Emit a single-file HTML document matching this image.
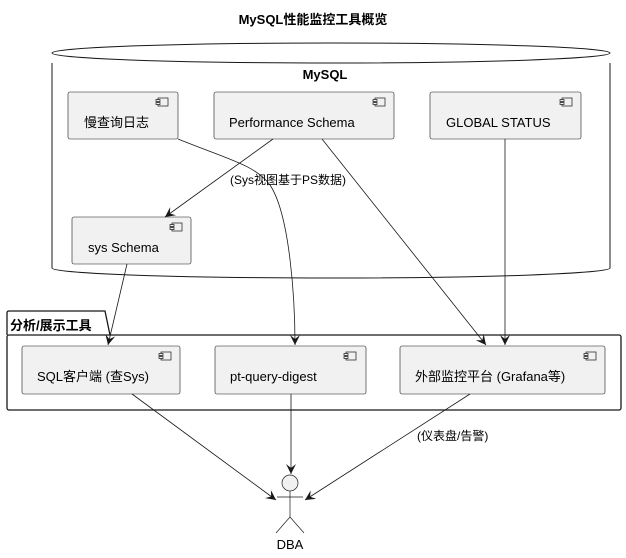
<!DOCTYPE html>
<html><head><meta charset="utf-8"><style>
body{margin:0;background:#fff}
svg text{font-family:"Liberation Sans","Noto Sans CJK SC",sans-serif;fill:#000}
</style></head><body>
<svg width="626" height="553" viewBox="0 0 626 553" xmlns="http://www.w3.org/2000/svg">
<defs>
<marker id="a" markerWidth="12" markerHeight="10" refX="10" refY="5" orient="auto" markerUnits="userSpaceOnUse">
<path d="M0,0 L10,5 L0,10 L4,5 Z" fill="#181818"/></marker>
<g id="ic"><rect x="0" y="0" width="10" height="8" fill="#f1f1f1" stroke="#181818" stroke-width="0.7"/><rect x="-2" y="1.5" width="4" height="2" fill="#f1f1f1" stroke="#181818" stroke-width="0.7"/><rect x="-2" y="4.5" width="4" height="2" fill="#f1f1f1" stroke="#181818" stroke-width="0.7"/></g>
</defs>
<text x="313" y="24" font-size="13" font-weight="bold" text-anchor="middle">MySQL性能监控工具概览</text>
<!-- cylinder -->
<path d="M52,63 L52,268 A279,10 0 0 0 610,268 L610,63" fill="#fff" stroke="#181818" stroke-width="1"/>
<ellipse cx="331" cy="53" rx="279" ry="10" fill="#fff" stroke="#181818" stroke-width="1"/>
<text x="325" y="79" font-size="13" font-weight="bold" text-anchor="middle">MySQL</text>
<g fill="#f1f1f1" stroke="#181818" stroke-width="0.6">
<rect x="68" y="92" width="110" height="47" rx="2"/>
<rect x="214" y="92" width="180" height="47" rx="2"/>
<rect x="430" y="92" width="151" height="47" rx="2"/>
<rect x="72" y="217" width="119" height="47" rx="2"/>
</g>
<use href="#ic" x="158" y="98"/><use href="#ic" x="375" y="98"/><use href="#ic" x="562" y="98"/><use href="#ic" x="172" y="223"/>
<g font-size="13">
<text x="84" y="127">慢查询日志</text>
<text x="229" y="127">Performance Schema</text>
<text x="446" y="127">GLOBAL STATUS</text>
<text x="88" y="252">sys Schema</text>
</g>
<!-- package -->
<path d="M7,335 L7,313 Q7,311 9,311 L105,311 L110,335" fill="#fff" stroke="#181818" stroke-width="1.3"/>
<rect x="7" y="335" width="614" height="75" rx="2" fill="#fff" stroke="#181818" stroke-width="1.3"/>
<text x="10" y="330" font-size="13" font-weight="bold">分析/展示工具</text>
<g fill="#f1f1f1" stroke="#181818" stroke-width="0.6">
<rect x="22" y="346" width="158" height="48" rx="2"/>
<rect x="215" y="346" width="151" height="48" rx="2"/>
<rect x="400" y="346" width="205" height="48" rx="2"/>
</g>
<use href="#ic" x="161" y="352"/><use href="#ic" x="346" y="352"/><use href="#ic" x="586" y="352"/>
<g font-size="13">
<text x="37" y="381">SQL客户端 (查Sys)</text>
<text x="230" y="381">pt-query-digest</text>
<text x="415" y="381">外部监控平台 (Grafana等)</text>
</g>
<!-- actor -->
<circle cx="290" cy="483" r="8" fill="#f1f1f1" stroke="#181818" stroke-width="0.7"/>
<g stroke="#181818" stroke-width="0.7"><line x1="290" y1="491" x2="290" y2="517"/><line x1="277" y1="497" x2="303" y2="497"/><line x1="290" y1="517" x2="276" y2="533"/><line x1="290" y1="517" x2="304" y2="533"/></g>
<text x="290" y="549" font-size="13" text-anchor="middle">DBA</text>
<!-- connectors -->
<g stroke="#181818" stroke-width="0.8" fill="none" marker-end="url(#a)">
<path d="M273,139 L165,217"/>
<path d="M178,139 C230,160 255,165 270,185 C290,215 295,300 295,345"/>
<path d="M322,139 L486,345"/>
<path d="M505,139 L505,345"/>
<path d="M127,264 L108,345"/>
<path d="M132,394 L276,500"/>
<path d="M291,394 L291,474"/>
<path d="M470,394 L305,500"/>
</g>
<text x="230" y="184" font-size="12">(Sys视图基于PS数据)</text>
<text x="417" y="440" font-size="12">(仪表盘/告警)</text>
</svg>
</body></html>
